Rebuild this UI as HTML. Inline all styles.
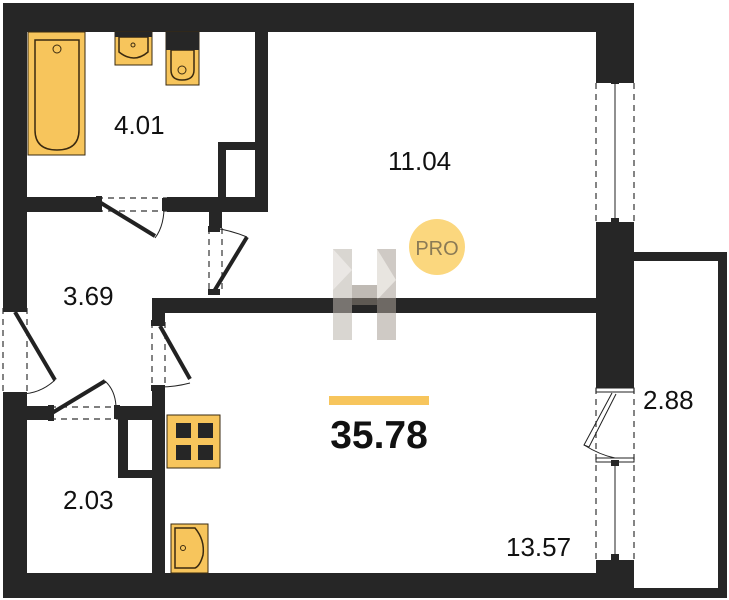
<!DOCTYPE html>
<html><head><meta charset="utf-8"><style>
html,body{margin:0;padding:0;background:#fff;width:729px;height:600px;overflow:hidden}
text{font-family:"Liberation Sans",sans-serif;fill:#111}
</style></head><body>
<svg width="729" height="600" viewBox="0 0 729 600" xmlns="http://www.w3.org/2000/svg">
<g fill="#262626">
<rect x="3" y="3" width="631" height="29"/>
<rect x="3" y="3" width="24" height="305"/>
<rect x="3" y="394" width="24" height="204"/>
<rect x="3" y="573" width="631" height="25"/>
<rect x="596" y="3" width="38" height="80"/>
<rect x="596" y="222" width="38" height="166"/>
<rect x="596" y="560" width="38" height="38"/>
<rect x="255" y="32" width="13" height="180"/>
<rect x="27" y="197" width="70" height="15"/>
<rect x="167" y="197" width="101" height="15"/>
<rect x="218" y="142" width="37" height="8"/>
<rect x="218" y="142" width="8" height="55"/>
<rect x="209" y="212" width="13" height="16"/>
<rect x="152" y="298" width="444" height="15"/>
<rect x="152" y="298" width="13" height="24"/>
<rect x="152" y="387" width="13" height="186"/>
<rect x="27" y="406" width="23" height="14"/>
<rect x="118" y="406" width="47" height="14"/>
<rect x="118" y="406" width="10" height="72"/>
<rect x="118" y="470" width="47" height="8"/>
</g>
<path d="M634 252 H727 V598 H634 V588 H718 V261 H634 Z" fill="#262626"/>
<g stroke="#333" fill="none" stroke-width="1.2" stroke-dasharray="6,5">
<line x1="596" y1="83" x2="596" y2="222"/><line x1="634" y1="83" x2="634" y2="222"/>
<line x1="596" y1="388" x2="596" y2="560"/><line x1="634" y1="388" x2="634" y2="560"/>
<line x1="97" y1="198" x2="167" y2="198"/><line x1="97" y1="211" x2="167" y2="211"/>
<line x1="209" y1="228" x2="209" y2="293"/><line x1="222" y1="228" x2="222" y2="293"/>
<line x1="152" y1="322" x2="152" y2="387"/><line x1="165" y1="322" x2="165" y2="387"/>
<line x1="3" y1="308" x2="3" y2="394"/><line x1="27" y1="308" x2="27" y2="394"/>
<line x1="50" y1="407" x2="118" y2="407"/><line x1="50" y1="419" x2="118" y2="419"/>
</g>
<g stroke="#222" stroke-width="1" fill="none">
<line x1="615" y1="83" x2="615" y2="222"/><line x1="615" y1="462" x2="615" y2="560"/>
<rect x="596" y="388" width="38" height="4"/><rect x="596" y="458" width="38" height="4"/>
<path d="M612 393 L584 445 L589 447 L616 394" />
<path d="M584 445 Q600 455 615 458"/>
<path d="M164 202 Q165 225 155 238"/>
<path d="M213 228 Q230 230 247 237"/>
<path d="M160 387 Q175 387 190 383"/>
<path d="M20 394 Q40 394 55 380"/>
<path d="M105 381 Q115 390 116 406"/>
</g>
<g stroke="#222" stroke-width="4" stroke-linecap="butt">
<line x1="101" y1="203" x2="155" y2="236"/>
<line x1="213" y1="293" x2="247" y2="237"/>
<line x1="160" y1="326" x2="190" y2="379"/>
<line x1="15" y1="312" x2="55" y2="380"/>
<line x1="52" y1="413" x2="105" y2="381"/>
</g>
<g fill="#262626">
<rect x="96" y="196" width="6" height="16"/><rect x="162" y="198" width="6" height="13"/>
<rect x="208" y="226" width="12" height="6"/><rect x="208" y="289" width="12" height="6"/>
<rect x="151" y="320" width="14" height="6"/><rect x="151" y="385" width="14" height="6"/>
<rect x="3" y="306" width="24" height="6"/><rect x="3" y="392" width="24" height="6"/>
<rect x="48" y="405" width="6" height="16"/><rect x="114" y="405" width="6" height="14"/>
<rect x="611" y="78" width="8" height="6"/><rect x="611" y="218" width="8" height="6"/>
<rect x="611" y="460" width="8" height="6"/><rect x="611" y="554" width="8" height="6"/>
</g>
<g stroke="#3a2a10" stroke-width="1" fill="#f7c55c">
<rect x="28" y="32" width="57" height="123"/>
<path d="M35 40 H79 V130 Q79 150 57 150 Q35 150 35 130 Z" stroke-width="1.5"/>
<circle cx="57" cy="49" r="4"/>
<rect x="115" y="32" width="37" height="33"/>
<path d="M119 37 H148 V52 Q134 64 119 52 Z" stroke-width="1.5"/>
<circle cx="133" cy="45" r="2"/>
<rect x="166" y="32" width="33" height="53"/>
<path d="M171 50 H194 V70 Q194 80 182 80 Q171 80 171 70 Z" stroke-width="1.5"/>
<circle cx="182" cy="70" r="4"/>
<rect x="167" y="415" width="53" height="53"/>
<rect x="171" y="524" width="37" height="49"/>
<path d="M175 528 H195 Q205 540 203 555 Q200 566 195 568 H175 Z" stroke-width="1.5"/>
<circle cx="183" cy="548" r="2.5"/>
</g>
<rect x="115" y="32" width="37" height="5" fill="#262626"/>
<rect x="166" y="32" width="33" height="18" fill="#262626"/>
<g fill="#262626">
<rect x="176" y="423" width="15" height="15"/><rect x="198" y="423" width="15" height="15"/>
<rect x="176" y="445" width="15" height="15"/><rect x="198" y="445" width="15" height="15"/>
</g>
<g opacity="0.55">
<polygon points="333,249 352,249 352,340 333,340" fill="#bbb5ad"/>
<polygon points="377,249 396,249 396,340 377,340" fill="#a9a097"/>
<polygon points="352,285 377,285 377,305 352,305" fill="#8c8378"/>
<polygon points="333,249 352,270 333,290" fill="#d9d4ce"/>
<polygon points="377,249 396,280 377,300" fill="#d6d0c8"/>
</g>
<circle cx="437" cy="247" r="28" fill="#fbd77e"/>
<text x="437" y="255" font-size="20" text-anchor="middle" style="fill:#8a7a55">PRO</text>
<rect x="329" y="396" width="100" height="9" fill="#f7c55c"/>
<text x="379" y="448" font-size="39" font-weight="bold" text-anchor="middle">35.78</text>
<g font-size="26">
<text x="114" y="134">4.01</text>
<text x="388" y="170">11.04</text>
<text x="63" y="305">3.69</text>
<text x="63" y="509">2.03</text>
<text x="506" y="556">13.57</text>
<text x="643" y="409">2.88</text>
</g>
</svg>
</body></html>
